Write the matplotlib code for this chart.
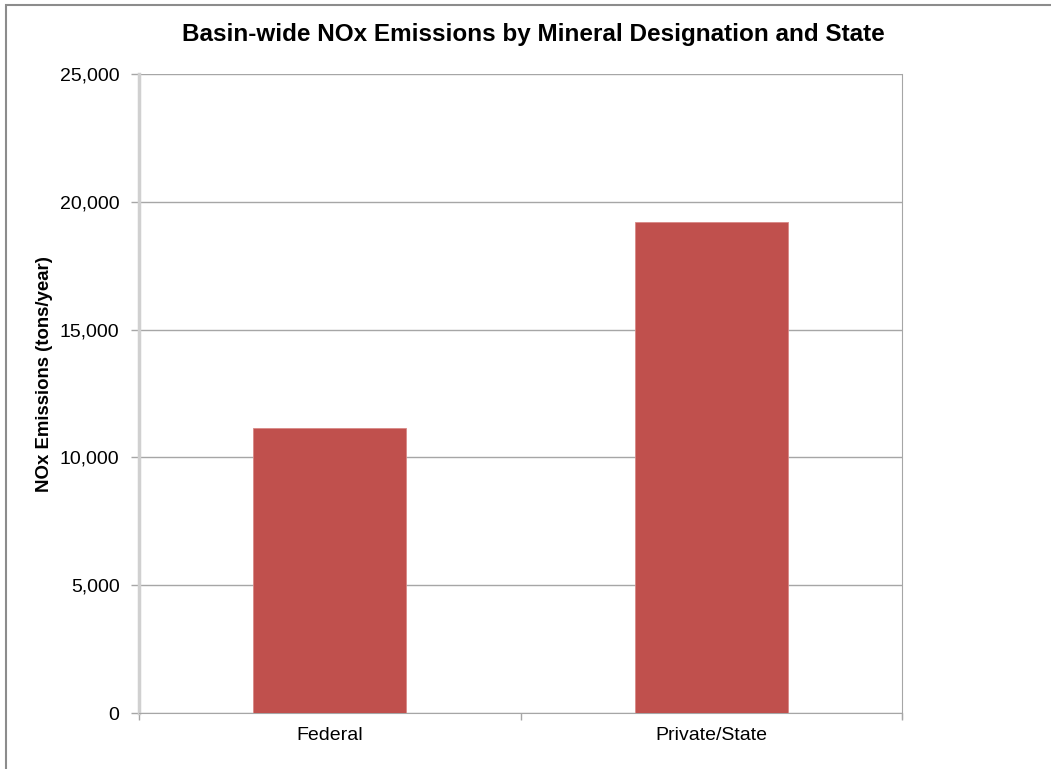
import matplotlib.pyplot as plt
from matplotlib.ticker import FuncFormatter
from matplotlib.patches import Rectangle

categories = ['Federal', 'Private/State']
nox_emissions = [11150, 19200]
y_ticks = [0, 5000, 10000, 15000, 20000, 25000]

plt.rcParams['font.family'] = ['Liberation Sans', 'DejaVu Sans']

fig = plt.figure(figsize=(10.51, 7.69), dpi=100)
ax = fig.add_axes([139 / 1051, 1 - 713 / 769, (902 - 139) / 1051, (713 - 74) / 769])

# outer chart frame (only top and left edges fall inside the image)
fig.patches.append(Rectangle((6 / 1051, -0.05), 1.2, 1 - 5 / 769 + 0.05,
                             transform=fig.transFigure, fill=False,
                             edgecolor='#8c8c8c', linewidth=1.5, zorder=0))

x = list(range(len(categories)))
ax.bar(x, nox_emissions, width=0.4, color='#C0504D', edgecolor='#d98886',
       linewidth=0.6, zorder=3)

ax.set_xlim(-0.5, len(categories) - 0.5)
ax.set_ylim(0, 25000)
ax.set_yticks(y_ticks)
ax.yaxis.set_major_formatter(FuncFormatter(lambda v, p: f'{int(v):,}'))
ax.grid(axis='y', color='#a6a6a6', linewidth=1.0, zorder=0)

# category labels centred, ticks at the category boundaries
ax.set_xticks([i - 0.5 for i in range(len(categories) + 1)])
ax.set_xticklabels([])
ax.set_xticks(x, minor=True)
ax.set_xticklabels(categories, minor=True)
ax.tick_params(axis='x', which='major', direction='out', length=5,
               color='#a6a6a6', width=1)
ax.tick_params(axis='x', which='minor', length=0, labelsize=14, pad=10)
ax.tick_params(axis='y', direction='out', length=6, color='#a6a6a6',
               width=1, labelsize=14, pad=8)

ax.spines['top'].set_visible(False)
ax.spines['left'].set_color('#d0d0d0')
ax.spines['left'].set_linewidth(2.5)
ax.spines['bottom'].set_color('#a6a6a6')
ax.spines['right'].set_color('#a6a6a6')
ax.spines['right'].set_bounds(-200, 25000)

ax.set_ylabel('NOx Emissions (tons/year)', fontsize=13.4, fontweight='bold',
              va='center')
ax.yaxis.set_label_coords(-94 / 763, 339 / 639)
fig.text(533 / 1051, 1 - 35 / 769,
         'Basin-wide NOx Emissions by Mineral Designation and State',
         ha='center', va='center', fontsize=17.5, fontweight='bold')

fig.savefig('out.png', dpi=100)
